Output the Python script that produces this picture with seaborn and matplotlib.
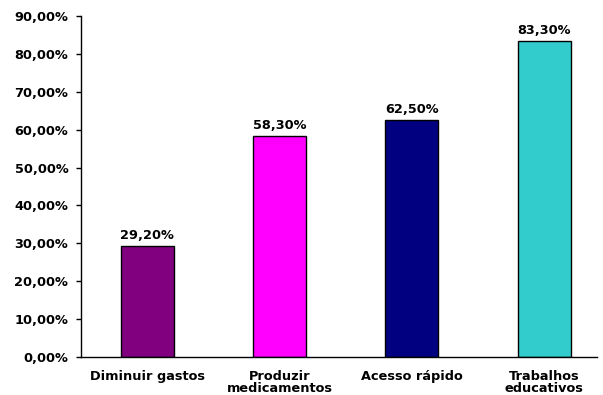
import matplotlib
matplotlib.use("Agg")
import matplotlib.pyplot as plt
import seaborn as sns
import pandas as pd
from matplotlib.ticker import FuncFormatter

categories = ["Diminuir gastos", "Produzir\nmedicamentos", "Acesso rápido", "Trabalhos\neducativos"]
values = [29.2, 58.3, 62.5, 83.3]
colors = ["#800080", "#FF00FF", "#000080", "#33CCCC"]

sns.set_theme(style="white")
plt.rcParams["font.family"] = ["DejaVu Sans"]
plt.rcParams["font.weight"] = "bold"

df = pd.DataFrame({"categoria": categories, "valor": values})

fig = plt.figure(figsize=(6.03, 3.95), dpi=100)
ax = fig.add_axes([0.1343, 0.0962, 0.8557, 0.8633])

sns.barplot(data=df, x="categoria", y="valor", hue="categoria", palette=colors,
            width=0.4, edgecolor="black", linewidth=1, saturation=1,
            legend=False, ax=ax)

FS = 9.3
for i, v in enumerate(values):
    ax.annotate(f"{v:.2f}%".replace(".", ","), (i, v), xytext=(0, 3),
                textcoords="offset points", ha="center", va="bottom",
                fontsize=FS, fontweight="bold", color="black")

ax.set_ylim(0, 90)
ax.set_yticks(range(0, 91, 10))
ax.yaxis.set_major_formatter(FuncFormatter(lambda y, _: f"{y:.2f}%".replace(".", ",")))
ax.set_xlim(-0.5, 3.4)
ax.set_xlabel("")
ax.set_ylabel("")

for s in ["top", "right"]:
    ax.spines[s].set_visible(False)
for s in ["left", "bottom"]:
    ax.spines[s].set_color("black")
    ax.spines[s].set_linewidth(1)

ax.tick_params(axis="y", which="major", left=True, length=3.6, width=1, color="black",
               labelsize=FS, pad=5.5)
ax.tick_params(axis="x", bottom=False, labelsize=FS, pad=3)
for lbl in ax.get_xticklabels() + ax.get_yticklabels():
    lbl.set_fontweight("bold")
    lbl.set_color("black")
for lbl in ax.get_xticklabels():
    lbl.set_linespacing(0.9)

fig.savefig("out.png", dpi=100, facecolor="white")
